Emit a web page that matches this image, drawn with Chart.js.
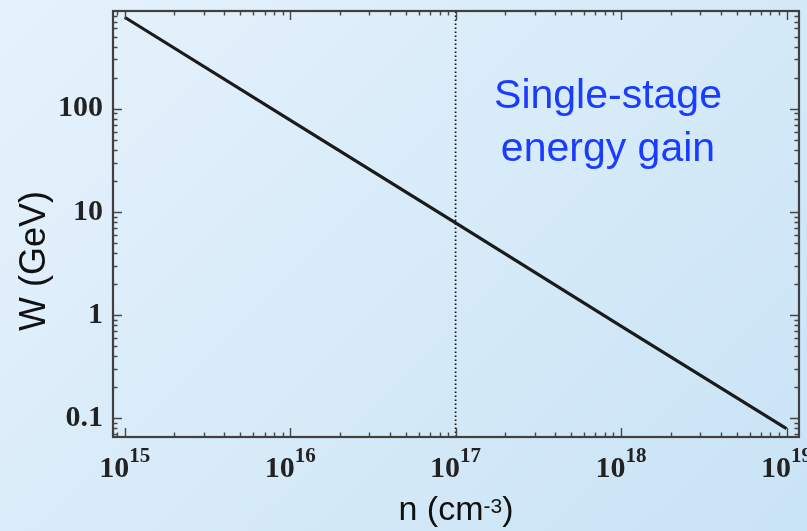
<!DOCTYPE html>
<html>
<head>
<meta charset="utf-8">
<script src="https://cdn.jsdelivr.net/npm/chart.js@4"></script>
<style>
  html, body { margin: 0; padding: 0; }
  body {
    width: 807px; height: 531px; overflow: hidden;
    background: linear-gradient(135deg, #e6f2fc 0%, #d6eaf8 55%, #c9e3f6 100%);
  }
  canvas { display: block; }
</style>
</head>
<body>
<canvas id="gain" width="807" height="531"></canvas>
<script>
// plasma density (cm^-3) and single-stage energy gain (GeV)
const densities = [1e15, 1e16, 1e17, 1e18, 1e19];
const energyGain = [770, 77.5, 7.8, 0.78, 0.079];
const markerDensity = 1e17;

const yTickValues = [0.1, 1, 10, 100];
const yTickLabels = ["0.1", "1", "10", "100"];
const xTickExponents = [15, 16, 17, 18, 19];

const xRange = [8.5e14, 1.19e19];
const yRange = [0.0655, 885];

const xTitle = "n (cm";
const xTitleSup = "-3";
const yTitle = "W (GeV)";
const noteLines = ["Single-stage", "energy gain"];

const serif = "'Liberation Serif', 'Times New Roman', serif";
const sans = "'Liberation Sans', Arial, sans-serif";

// Mathematica-style frame: box plus inward major/minor ticks on all sides
const frameTicks = {
  id: "frameTicks",
  afterDatasetsDraw(chart) {
    const { ctx, chartArea: a, scales: { x, y } } = chart;
    ctx.save();
    ctx.strokeStyle = "#474747";
    ctx.lineWidth = 1.4;
    const decadeTicks = (min, max) => {
      const out = [];
      for (let k = Math.floor(Math.log10(min)); k <= Math.ceil(Math.log10(max)); k++) {
        for (let m = 1; m <= 9; m++) {
          const v = m * Math.pow(10, k);
          if (v >= min && v <= max) out.push({ v, major: m === 1 });
        }
      }
      return out;
    };
    ctx.beginPath();
    decadeTicks(x.min, x.max).forEach(t => {
      const px = Math.round(x.getPixelForValue(t.v)) + 0.5;
      const len = t.major ? 9 : 4.5;
      ctx.moveTo(px, a.bottom); ctx.lineTo(px, a.bottom - len);
      ctx.moveTo(px, a.top); ctx.lineTo(px, a.top + len);
    });
    decadeTicks(y.min, y.max).forEach(t => {
      const py = Math.round(y.getPixelForValue(t.v)) + 0.5;
      const len = t.major ? 9 : 4.5;
      ctx.moveTo(a.left, py); ctx.lineTo(a.left + len, py);
      ctx.moveTo(a.right, py); ctx.lineTo(a.right - len, py);
    });
    ctx.stroke();
    ctx.lineWidth = 2.2;
    ctx.strokeStyle = "#404040";
    ctx.strokeRect(a.left, a.top, a.width, a.height);
    ctx.restore();
  },
  afterDraw(chart) {
    const { ctx, scales: { x } } = chart;
    ctx.save();
    ctx.fillStyle = "#222";
    ctx.textBaseline = "alphabetic";
    // x tick labels as 10 with a raised exponent
    xTickExponents.forEach(e => {
      const px = x.getPixelForValue(Math.pow(10, e));
      ctx.font = "bold 30px " + serif;
      const wBase = ctx.measureText("10").width;
      ctx.font = "bold 21px " + serif;
      const wSup = ctx.measureText(String(e)).width;
      const left = px - (wBase + wSup) / 2;
      ctx.font = "bold 30px " + serif;
      ctx.fillText("10", left, 477);
      ctx.font = "bold 21px " + serif;
      ctx.fillText(String(e), left + wBase, 462);
    });

    // axis titles
    ctx.fillStyle = "#111";
    ctx.font = "34px " + sans;
    ctx.textAlign = "left";
    const w1 = ctx.measureText(xTitle).width;
    ctx.font = "21px " + sans;
    const w2 = ctx.measureText(xTitleSup).width;
    ctx.font = "34px " + sans;
    const w3 = ctx.measureText(")").width;
    const x0 = 456 - (w1 + w2 + w3) / 2;
    ctx.fillText(xTitle, x0, 520);
    ctx.font = "21px " + sans;
    ctx.fillText(xTitleSup, x0 + w1, 513);
    ctx.font = "34px " + sans;
    ctx.fillText(")", x0 + w1 + w2, 520);

    ctx.save();
    ctx.translate(45, 261);
    ctx.rotate(-Math.PI / 2);
    ctx.font = "36px " + sans;
    ctx.textAlign = "center";
    ctx.fillText(yTitle, 0, 0);
    ctx.restore();

    // annotation
    ctx.fillStyle = "#1a3cff";
    ctx.font = "41px " + sans;
    ctx.textAlign = "center";
    ctx.fillText(noteLines[0], 608, 108);
    ctx.fillText(noteLines[1], 608, 161);
    ctx.restore();
  }
};

new Chart(document.getElementById("gain"), {
  type: "line",
  data: {
    datasets: [
      {
        data: densities.map((n, i) => ({ x: n, y: energyGain[i] })),
        borderColor: "#1b1b1b",
        borderWidth: 3.2,
        pointRadius: 0,
        tension: 0
      },
      {
        data: [{ x: markerDensity, y: yRange[0] }, { x: markerDensity, y: yRange[1] }],
        borderColor: "#111",
        borderWidth: 1.7,
        borderDash: [1.6, 2.4],
        pointRadius: 0
      }
    ]
  },
  options: {
    responsive: false,
    animation: false,
    layout: { padding: { top: 11, right: 8, left: 0, bottom: 0 } },
    plugins: { legend: { display: false }, tooltip: { enabled: false } },
    scales: {
      x: {
        type: "logarithmic",
        min: xRange[0],
        max: xRange[1],
        grid: { display: false, drawTicks: false },
        border: { display: false },
        ticks: { display: false },
        afterFit(scale) {
          scale.height = 94;
          scale.paddingLeft = 0;
          scale.paddingRight = 0;
        }
      },
      y: {
        type: "logarithmic",
        min: yRange[0],
        max: yRange[1],
        grid: { display: false, drawTicks: false },
        border: { display: false },
        afterBuildTicks(scale) { scale.ticks = yTickValues.map(v => ({ value: v })); },
        ticks: {
          padding: 10,
          color: "#222",
          font: { family: serif, size: 30, weight: "bold" },
          callback: (v) => {
            const i = yTickValues.indexOf(v);
            return i >= 0 ? yTickLabels[i] : "";
          }
        },
        afterFit(scale) {
          scale.width = 113;
          scale.paddingTop = 0;
          scale.paddingBottom = 0;
        }
      }
    }
  },
  plugins: [frameTicks]
});
</script>
</body>
</html>
